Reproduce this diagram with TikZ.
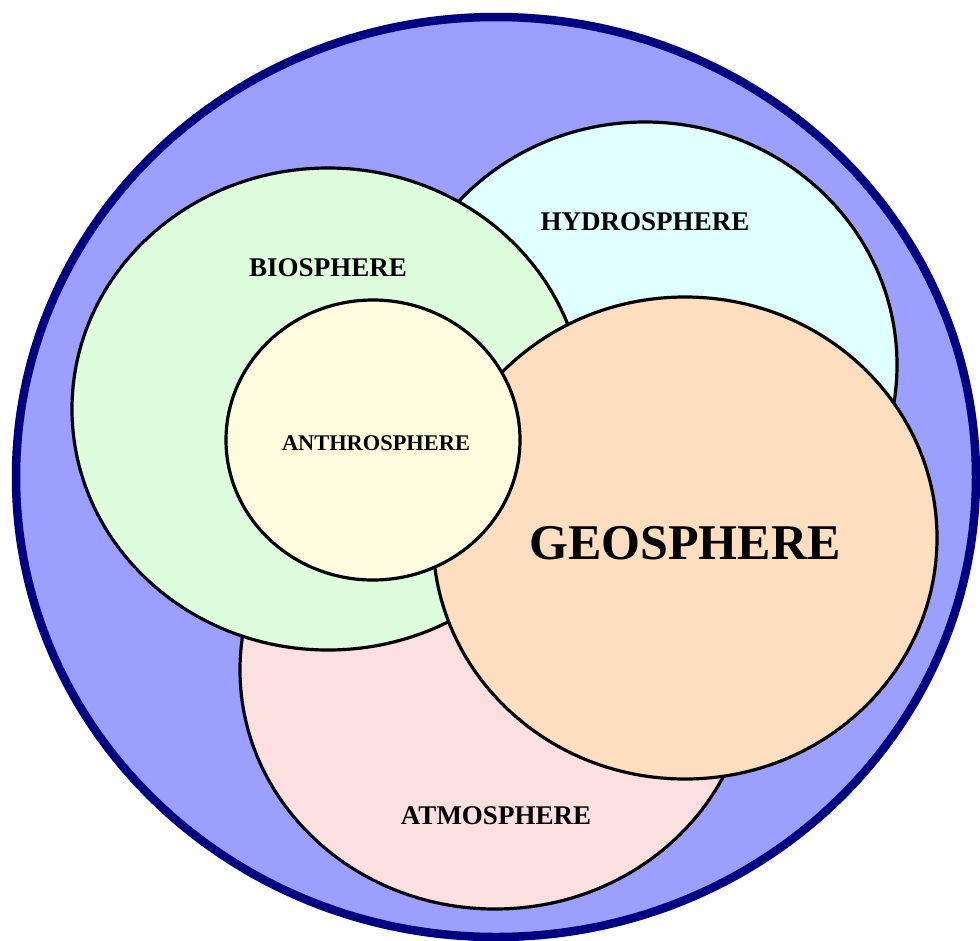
\documentclass[tikz,border=0pt]{standalone}
\usepackage{fontspec}
\setmainfont{Liberation Serif}
\usepackage{tikz}
\usetikzlibrary{shapes.geometric}
\definecolor{pouter}{HTML}{9D9FFF}
\definecolor{pouterd}{HTML}{000080}
\definecolor{pbio}{HTML}{DDFDDD}
\definecolor{phydro}{HTML}{E0FFFF}
\definecolor{pgeo}{HTML}{FDDEC0}
\definecolor{patmo}{HTML}{FCDFDF}
\definecolor{panthro}{HTML}{FFFDE0}
\tikzset{
  % an ellipse; size given as rx/ry in px
  sphere/.style 2 args = {ellipse, draw=black, line width=3.2pt, inner sep=0pt,
                  minimum width=2*#1, minimum height=2*#2},
  lbl/.style   = {font=\fontsize{27}{31}\selectfont\bfseries, inner sep=0pt},
  small lbl/.style = {font=\fontsize{22.4}{26}\selectfont\bfseries, inner sep=0pt},
  big lbl/.style   = {font=\fontsize{50}{56}\selectfont\bfseries, inner sep=0pt},
}
\begin{document}
\begin{tikzpicture}[x=1pt,y=-1pt]
\useasboundingbox (0,0) rectangle (980,940);
% earth system
\node[sphere={480pt}{460pt}, draw=pouterd, fill=pouter, line width=8.5pt] (earth) at (496,477) {};
% the five spheres, back to front
\node[sphere={255pt}{239pt}, fill=patmo]   (atmo)   at (495,670) {};
\node[sphere={252pt}{243pt}, fill=phydro]  (hydro)  at (645,365) {};
\node[sphere={256pt}{241pt}, fill=pbio]    (bio)    at (328,409) {};
\node[sphere={252pt}{241pt}, fill=pgeo]    (geo)    at (685,538) {};
\node[sphere={147pt}{140pt}, fill=panthro] (anthro) at (373,440) {};
% labels
\node[lbl] (atmoText)  at (496,816) {ATMOSPHERE};
\node[lbl] (hydroText) at (645,222) {HYDROSPHERE};
\node[lbl] (bioText)   at (328,268) {BIOSPHERE};
\node[big lbl] (geoText) at (685,543) {GEOSPHERE};
\node[small lbl] (anthroText) at (376,443) {ANTHROSPHERE};
\end{tikzpicture}
\end{document}
